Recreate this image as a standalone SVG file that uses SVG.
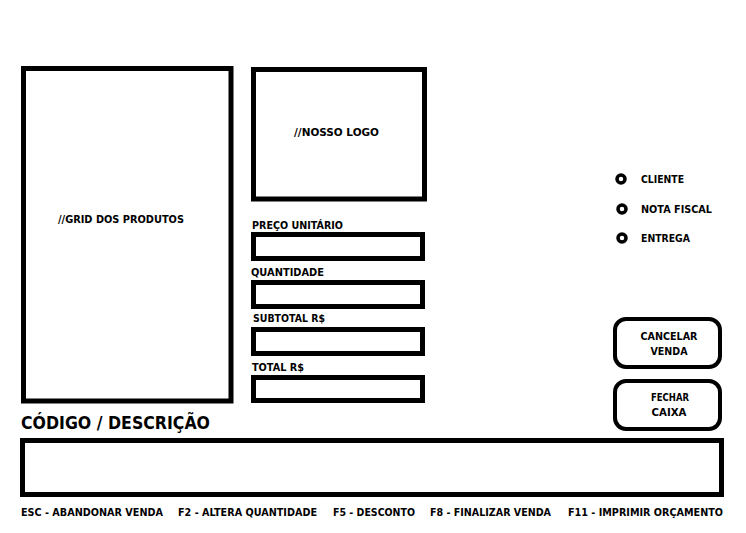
<svg xmlns="http://www.w3.org/2000/svg" width="746" height="533" viewBox="0 0 746 533">
<style>
.box{fill:#fff;stroke:#000;stroke-width:5}
.btn{fill:#fff;stroke:#000;stroke-width:4}
.radio{fill:#fff;stroke:#000;stroke-width:3.5}
text{font-family:"DejaVu Sans","Liberation Sans",sans-serif;font-weight:bold;fill:#000;font-size:11px}
.h{font-size:17px}
.c{text-anchor:middle}
</style>
<rect width="746" height="533" fill="#fff"/>
<g id="grid">
<rect class="box" x="23.5" y="68.5" width="207.5" height="332.5"/>
<text x="58" y="223" textLength="126" lengthAdjust="spacingAndGlyphs">//GRID DOS PRODUTOS</text>
</g>
<g id="logo">
<rect class="box" x="253.5" y="69.5" width="171" height="129.5"/>
<text x="294" y="136" textLength="85" lengthAdjust="spacingAndGlyphs">//NOSSO LOGO</text>
</g>
<g id="preco">
<text x="252" y="229" textLength="91" lengthAdjust="spacingAndGlyphs">PREÇO UNITÁRIO</text>
<rect class="box" x="253.5" y="234.5" width="169" height="24"/>
</g>
<g id="quantidade">
<text x="251" y="276" textLength="73" lengthAdjust="spacingAndGlyphs">QUANTIDADE</text>
<rect class="box" x="253.5" y="282.5" width="169" height="24"/>
</g>
<g id="subtotal">
<text x="253" y="322" textLength="72" lengthAdjust="spacingAndGlyphs">SUBTOTAL R$</text>
<rect class="box" x="253.5" y="329.5" width="169" height="24"/>
</g>
<g id="total">
<text x="252" y="371" textLength="52" lengthAdjust="spacingAndGlyphs">TOTAL R$</text>
<rect class="box" x="253.5" y="377.5" width="169" height="23"/>
</g>
<g id="radio-cliente">
<circle class="radio" cx="621" cy="179" r="4"/>
<text x="641" y="183" textLength="43" lengthAdjust="spacingAndGlyphs">CLIENTE</text>
</g>
<g id="radio-nota">
<circle class="radio" cx="622" cy="209" r="4"/>
<text x="641" y="213" textLength="71" lengthAdjust="spacingAndGlyphs">NOTA FISCAL</text>
</g>
<g id="radio-entrega">
<circle class="radio" cx="622" cy="238" r="4"/>
<text x="641" y="242" textLength="49" lengthAdjust="spacingAndGlyphs">ENTREGA</text>
</g>
<g id="btn-cancelar">
<rect class="btn" x="615" y="319" width="105" height="48" rx="11"/>
<text class="c" x="669" y="340" textLength="57" lengthAdjust="spacingAndGlyphs">CANCELAR</text>
<text class="c" x="669" y="355" textLength="37" lengthAdjust="spacingAndGlyphs">VENDA</text>
</g>
<g id="btn-fechar">
<rect class="btn" x="615" y="381" width="105" height="48" rx="11"/>
<text class="c" x="670" y="401" textLength="38" lengthAdjust="spacingAndGlyphs">FECHAR</text>
<text class="c" x="669" y="416" textLength="35" lengthAdjust="spacingAndGlyphs">CAIXA</text>
</g>
<g id="codigo">
<text class="h" x="21" y="429" textLength="189" lengthAdjust="spacingAndGlyphs">CÓDIGO / DESCRIÇÃO</text>
<rect class="box" x="22.5" y="440.5" width="699" height="54"/>
</g>
<g id="atalhos">
<text x="21" y="516" textLength="142" lengthAdjust="spacingAndGlyphs">ESC - ABANDONAR VENDA</text>
<text x="178" y="516" textLength="139" lengthAdjust="spacingAndGlyphs">F2 - ALTERA QUANTIDADE</text>
<text x="333" y="516" textLength="82" lengthAdjust="spacingAndGlyphs">F5 - DESCONTO</text>
<text x="430" y="516" textLength="121" lengthAdjust="spacingAndGlyphs">F8 - FINALIZAR VENDA</text>
<text x="568" y="516" textLength="155" lengthAdjust="spacingAndGlyphs">F11 - IMPRIMIR ORÇAMENTO</text>
</g>
<g id="connectors"/>
</svg>
